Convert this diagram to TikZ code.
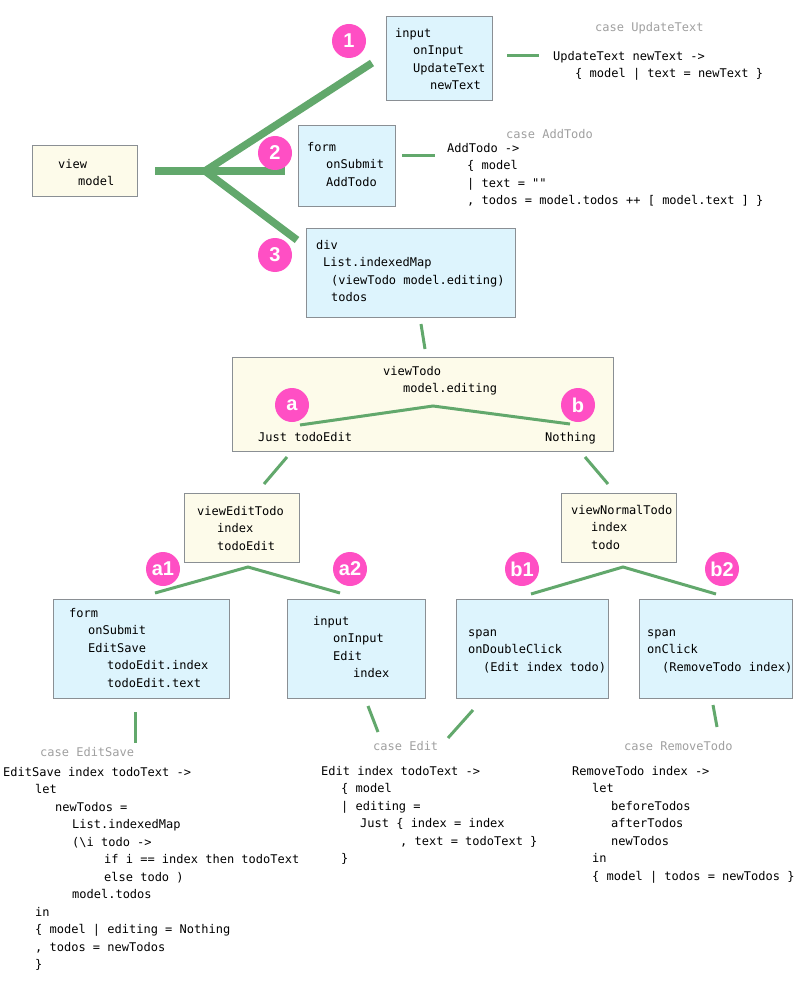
\documentclass[tikz,border=0pt]{standalone}
\usepackage{fontspec}
\setmonofont{DejaVu Sans Mono}
\newfontfamily\badgefont{Liberation Sans}
\definecolor{boxblue}{HTML}{DDF4FD}
\definecolor{boxyellow}{HTML}{FDFBEA}
\definecolor{boxline}{HTML}{8A8F94}
\definecolor{linkgreen}{HTML}{62A86C}
\definecolor{badgepink}{HTML}{FF4FC4}
\definecolor{casegray}{HTML}{A0A0A0}
\newcommand\codepad[1]{\hspace*{#1pt}}

\begin{document}
\begin{tikzpicture}[x=1pt, y=-1pt,
    box/.style={draw=boxline, line width=1pt, inner sep=0pt, outer sep=0pt},
    bluebox/.style={box, fill=boxblue},
    yellowbox/.style={box, fill=boxyellow},
    code/.style={anchor=north west, align=left, inner sep=0pt, font=\ttfamily\fontsize{12}{17.5}\selectfont},
    casetext/.style={code, text=casegray},
    badge/.style={circle, fill=badgepink, text=white, inner sep=0pt, minimum size=34pt, font=\badgefont\bfseries\fontsize{20}{20}\selectfont},
    link/.style={draw=linkgreen, line width=3pt},
    trunk/.style={draw=linkgreen, line width=7.5pt, line join=round}]
    \fill[white] (0,0) rectangle (800,984);

    % boxes
    \node[yellowbox, minimum width=105, minimum height=51] (viewbox) at (84.5,171.5) {};
    \node[bluebox, minimum width=106, minimum height=84] (inputbox) at (439,59) {};
    \node[bluebox, minimum width=97, minimum height=81] (formbox) at (346.5,166.5) {};
    \node[bluebox, minimum width=209, minimum height=88] (divbox) at (410.5,273) {};
    \node[yellowbox, minimum width=381, minimum height=94] (todobox) at (422.5,404) {};
    \node[yellowbox, minimum width=115, minimum height=69] (editbox) at (241.5,527.5) {};
    \node[yellowbox, minimum width=115, minimum height=69] (normalbox) at (618.5,527.5) {};
    \node[bluebox, minimum width=176, minimum height=99] (saveformbox) at (141,648.5) {};
    \node[bluebox, minimum width=138, minimum height=99] (editinputbox) at (356,648.5) {};
    \node[bluebox, minimum width=152, minimum height=99] (dblspanbox) at (532,648.5) {};
    \node[bluebox, minimum width=153, minimum height=99] (removespanbox) at (715.5,648.5) {};

    % texts in the boxes
    \node[code] (viewtext) at (58,155.75) {\strut view\\ \codepad{20}model};
    \node[code] (inputtext) at (395,24.75) {\strut input\\ \codepad{18}onInput\\ \codepad{18}UpdateText\\ \codepad{35}newText};
    \node[code] (formtext) at (307,138.75) {\strut form\\ \codepad{19}onSubmit\\ \codepad{19}AddTodo};
    \node[code] (divtext) at (316,236.75) {\strut div\\ \codepad{7}List.indexedMap\\ \codepad{15}(viewTodo model.editing)\\ \codepad{15}todos};
    \node[code] (todotext) at (383,362.75) {\strut viewTodo\\ \codepad{20}model.editing};
    \node[code] (justtext) at (258,428.75) {\strut Just todoEdit};
    \node[code] (nothingtext) at (545,428.75) {\strut Nothing};
    \node[code] (edittext) at (197,502.75) {\strut viewEditTodo\\ \codepad{20}index\\ \codepad{20}todoEdit};
    \node[code] (normaltext) at (571,501.75) {\strut viewNormalTodo\\ \codepad{20}index\\ \codepad{20}todo};
    \node[code] (saveformtext) at (69,604.75) {\strut form\\ \codepad{19}onSubmit\\ \codepad{19}EditSave\\ \codepad{38}todoEdit.index\\ \codepad{38}todoEdit.text};
    \node[code] (editinputtext) at (313,612.75) {\strut input\\ \codepad{20}onInput\\ \codepad{20}Edit\\ \codepad{40}index};
    \node[code] (dblspantext) at (468,623.75) {\strut span\\ onDoubleClick\\ \codepad{15}(Edit index todo)};
    \node[code] (removespantext) at (647,623.75) {\strut span\\ onClick\\ \codepad{15}(RemoveTodo index)};

    % update cases
    \node[casetext] (updatecase) at (595,18.75) {\strut case UpdateText};
    \node[code] (updatecode) at (553,47.75) {\strut UpdateText newText ->\\ \codepad{22}\{ model | text = newText \}};
    \node[casetext] (addcase) at (506,125.75) {\strut case AddTodo};
    \node[code] (addcode) at (447,139.75) {\strut AddTodo ->\\ \codepad{20}\{ model\\ \codepad{20}| text = ""\\ \codepad{20}, todos = model.todos ++ [ model.text ] \}};
    \node[casetext] (savecase) at (40,743.75) {\strut case EditSave};
    \node[code] (savecode) at (3,763.75) {\strut EditSave index todoText ->\\ \codepad{32}let\\ \codepad{52}newTodos =\\ \codepad{69}List.indexedMap\\ \codepad{69}(\textbackslash i todo ->\\ \codepad{101}if i == index then todoText\\ \codepad{101}else todo )\\ \codepad{69}model.todos\\ \codepad{32}in\\ \codepad{32}\{ model | editing = Nothing\\ \codepad{32}, todos = newTodos\\ \codepad{32}\}};
    \node[casetext] (editcase) at (373,737.75) {\strut case Edit};
    \node[code] (editcode) at (321,762.75) {\strut Edit index todoText ->\\ \codepad{20}\{ model\\ \codepad{20}| editing =\\ \codepad{39}Just \{ index = index\\ \codepad{79}, text = todoText \}\\ \codepad{20}\}};
    \node[casetext] (removecase) at (624,737.75) {\strut case RemoveTodo};
    \node[code] (removecode) at (572,762.75) {\strut RemoveTodo index ->\\ \codepad{20}let\\ \codepad{39}beforeTodos\\ \codepad{39}afterTodos\\ \codepad{39}newTodos\\ \codepad{20}in\\ \codepad{20}\{ model | todos = newTodos \}};

    % thick fork out of view
    \coordinate (trunkstart) at (155,171);
    \coordinate (fork) at (205,171);
    \coordinate (forkone) at (372,63);
    \coordinate (forktwo) at (285,171);
    \coordinate (forkthree) at (297,240);
    \draw[trunk] (trunkstart) -- (forktwo);
    \draw[trunk] (forkone) -- (fork) -- (forkthree);

    % thin links
    \coordinate (inputout) at (507,56);
    \coordinate (updatein) at (539,56);
    \coordinate (formout) at (402,156);
    \coordinate (addin) at (435,156);
    \coordinate (divout) at (421,324);
    \coordinate (todoin) at (425,349);
    \coordinate (justend) at (300,425);
    \coordinate (todotop) at (433,406);
    \coordinate (nothingend) at (570,424);
    \coordinate (justout) at (287,457);
    \coordinate (editin) at (264,484);
    \coordinate (nothingout) at (585,457);
    \coordinate (normalin) at (608,484);
    \coordinate (saveend) at (155,593);
    \coordinate (edittop) at (248,567);
    \coordinate (inputend) at (340,593);
    \coordinate (dblend) at (531,594);
    \coordinate (normaltop) at (623,567);
    \coordinate (removeend) at (716,594);
    \coordinate (saveout) at (135,712);
    \coordinate (savein) at (135,743);
    \coordinate (inputout2) at (368,706);
    \coordinate (editin2) at (378,732);
    \coordinate (dblout) at (473,710);
    \coordinate (editin3) at (448,738);
    \coordinate (removeout) at (713,705);
    \coordinate (removein) at (717,727);

    \draw[link] (inputout) -- (updatein);
    \draw[link] (formout) -- (addin);
    \draw[link] (divout) -- (todoin);
    \draw[link] (justend) -- (todotop) -- (nothingend);
    \draw[link] (justout) -- (editin);
    \draw[link] (nothingout) -- (normalin);
    \draw[link] (saveend) -- (edittop) -- (inputend);
    \draw[link] (dblend) -- (normaltop) -- (removeend);
    \draw[link] (saveout) -- (savein);
    \draw[link] (inputout2) -- (editin2);
    \draw[link] (dblout) -- (editin3);
    \draw[link] (removeout) -- (removein);

    % badges
    \node[badge] (badgeone) at (349,41) {1};
    \node[badge] (badgetwo) at (275,153) {2};
    \node[badge] (badgethree) at (275,255) {3};
    \node[badge] (badgea) at (292,405) {a};
    \node[badge] (badgeb) at (578,405) {b};
    \node[badge] (badgeaone) at (163,569) {a1};
    \node[badge] (badgeatwo) at (350,569) {a2};
    \node[badge] (badgebone) at (522,569) {b1};
    \node[badge] (badgebtwo) at (722,569) {b2};
\end{tikzpicture}
\end{document}
